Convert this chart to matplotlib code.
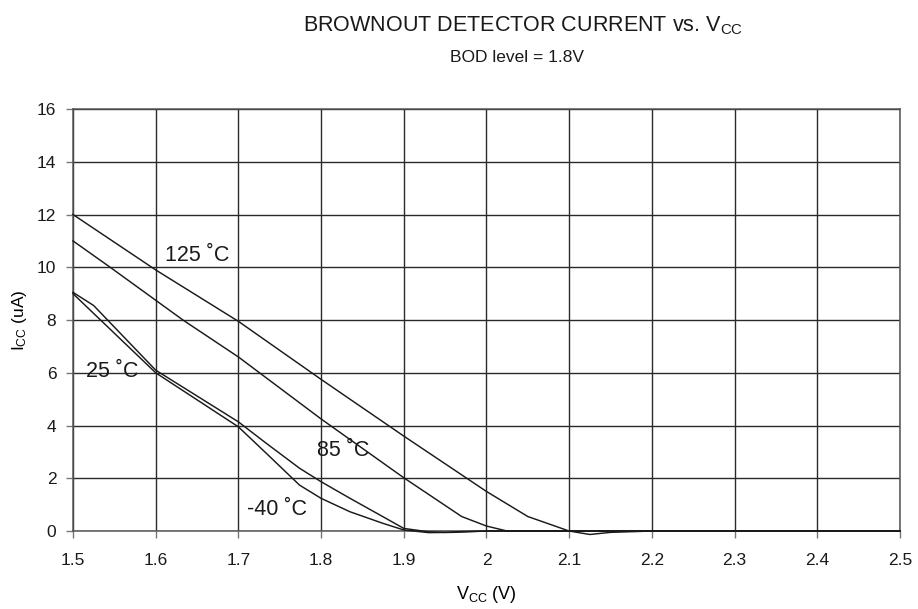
import numpy as np
import matplotlib
matplotlib.use("Agg")
import matplotlib.pyplot as plt

plt.rcParams["font.family"] = ["Liberation Sans", "DejaVu Sans"]
plt.rcParams["mathtext.fontset"] = "custom"
plt.rcParams["mathtext.rm"] = "Liberation Sans"
plt.rcParams["mathtext.default"] = "regular"

# BOD current vs supply voltage, one curve per temperature
vcc_125 = [1.5, 1.6, 1.7, 1.8, 1.9, 2.0, 2.05, 2.1, 2.125, 2.15, 2.2, 2.3, 2.4, 2.5]
icc_125 = [12.0, 9.9, 7.95, 5.75, 3.6, 1.5, 0.55, 0.0, -0.13, -0.05, 0.0, 0.0, 0.0, 0.0]

vcc_85 = [1.5, 1.545, 1.6, 1.633, 1.7, 1.8, 1.9, 1.97, 2.0, 2.025, 2.1, 2.2, 2.3, 2.4, 2.5]
icc_85 = [11.0, 10.0, 8.75, 8.0, 6.6, 4.25, 2.02, 0.55, 0.19, 0.0, 0.0, 0.0, 0.0, 0.0, 0.0]

vcc_25 = [1.5, 1.525, 1.6, 1.7, 1.734, 1.774, 1.8, 1.835, 1.875, 1.9, 1.93, 1.95, 1.97, 2.0, 2.5]
icc_25 = [9.05, 8.55, 6.1, 4.14, 3.32, 2.38, 1.87, 1.24, 0.54, 0.1, -0.03, -0.05, -0.02, 0.0, 0.0]

vcc_m40 = [1.5, 1.6, 1.7, 1.734, 1.774, 1.8, 1.835, 1.875, 1.9, 1.93, 1.96, 2.0, 2.5]
icc_m40 = [9.0, 6.0, 3.95, 2.94, 1.74, 1.24, 0.73, 0.29, 0.04, -0.06, -0.05, 0.0, 0.0]

curve_labels = ["125 \u02daC", "85 \u02daC", "25 \u02daC", "-40 \u02daC"]
label_pos = [(1.611, 10.45), (1.795, 3.07), (1.516, 6.05), (1.71, 0.8)]

x_ticks = [1.5, 1.6, 1.7, 1.8, 1.9, 2.0, 2.1, 2.2, 2.3, 2.4, 2.5]
x_ticklabels = ["1.5", "1.6", "1.7", "1.8", "1.9", "2", "2.1", "2.2", "2.3", "2.4", "2.5"]
y_ticks = [0, 2, 4, 6, 8, 10, 12, 14, 16]


def draw_bod_chart():
    fig = plt.figure(figsize=(9.18, 6.09), dpi=100)
    ax = fig.add_axes([0.0795, 0.128, 0.9009, 0.693])

    # lines may dip a little below zero, let them show past the axis
    for v, i in [(vcc_125, icc_125), (vcc_85, icc_85), (vcc_25, icc_25), (vcc_m40, icc_m40)]:
        ax.plot(v, i, color="#1a1a1a", lw=1.05, zorder=3, clip_on=False)

    for txt, (x, y) in zip(curve_labels, label_pos):
        ax.text(x, y, txt, fontsize=15.5, ha="left", va="center", color="#1a1a1a", zorder=4)

    ax.set_xlim(1.5, 2.5)
    ax.set_ylim(0, 16)
    ax.set_xticks(x_ticks)
    ax.set_xticklabels(x_ticklabels)
    ax.set_yticks(y_ticks)
    ax.tick_params(axis="both", labelsize=12.5, length=5, width=1, color="#777777",
                   labelcolor="#1a1a1a", direction="out")
    ax.tick_params(axis="x", pad=11)
    ax.tick_params(axis="y", pad=7)
    ax.grid(True, color="#2a2a2a", lw=1.0, zorder=1)
    for s in ax.spines.values():
        s.set_color("#555555")
        s.set_linewidth(1.1)

    ax.set_xlabel("V$_{CC}$ (V)", fontsize=13, labelpad=11)
    ax.set_ylabel("I$_{CC}$ (uA)", fontsize=12.5, labelpad=6)

    fig.text(0.570, 0.957, "BROWNOUT DETECTOR CURRENT vs. V$_{CC}$", fontsize=15.5,
             ha="center", va="center", color="#1a1a1a")
    fig.text(0.563, 0.905, "BOD level = 1.8V", fontsize=12.5, ha="center", va="center",
             color="#1a1a1a")

    fig.savefig("out.png", dpi=100)
    plt.close(fig)


if __name__ == "__main__":
    draw_bod_chart()
